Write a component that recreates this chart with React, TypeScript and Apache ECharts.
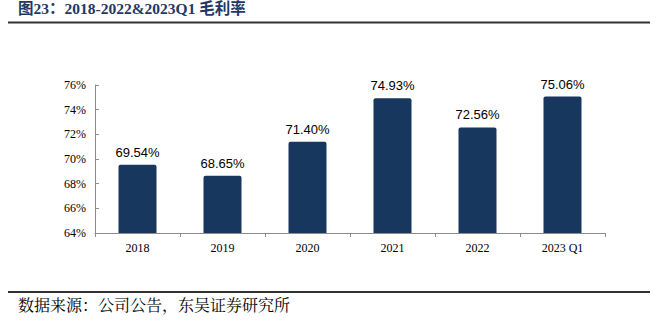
import React, { useEffect, useRef } from "react";
import * as echarts from "echarts";

const categories = ["2018", "2019", "2020", "2021", "2022", "2023 Q1"];
const grossMargin = [69.54, 68.65, 71.4, 74.93, 72.56, 75.06];
const yMin = 64;
const yMax = 76;
const yInterval = 2;
const titleText = "图23：2018-2022&2023Q1 毛利率";
const sourceText = "数据来源：公司公告，东吴证券研究所";

export default function App() {
  const ref = useRef<HTMLDivElement>(null);
  useEffect(() => {
    if (!ref.current) return;
    const chart = echarts.init(ref.current, undefined, { renderer: "svg" });
    chart.setOption({
      animation: false,
      backgroundColor: "#ffffff",
      grid: { left: 95, right: 54, top: 85, bottom: 90 },
      xAxis: {
        type: "category",
        data: categories,
        axisLine: { lineStyle: { color: "#8c8c8c", width: 1 } },
        axisTick: { show: true, alignWithLabel: false, length: 4, inside: false, lineStyle: { color: "#8c8c8c" } },
        axisLabel: { color: "#000", fontFamily: "Liberation Serif", fontSize: 12, margin: 9 },
      },
      yAxis: {
        type: "value",
        min: yMin,
        max: yMax,
        interval: yInterval,
        splitLine: { show: false },
        axisLine: { show: true, lineStyle: { color: "#8c8c8c", width: 1 } },
        axisTick: { show: true, inside: true, length: 4, lineStyle: { color: "#8c8c8c" } },
        axisLabel: { color: "#000", fontFamily: "Liberation Serif", fontSize: 12, margin: 9, formatter: "{value}%" },
      },
      series: [
        {
          type: "bar",
          data: grossMargin,
          barWidth: 38,
          itemStyle: { color: "#17375e", borderRadius: [2, 2, 0, 0] },
          label: {
            show: true,
            position: "top",
            distance: 6,
            color: "#000",
            fontFamily: "Liberation Sans",
            fontSize: 13,
            formatter: (p: any) => p.value.toFixed(2) + "%",
          },
        },
      ],
      graphic: [
        {
          type: "text",
          left: 18,
          top: 1,
          style: {
            text: titleText,
            fontFamily: "Liberation Serif, 'Noto Sans CJK SC'",
            fontWeight: "bold",
            fontSize: 15.5,
            fill: "#1f3864",
          },
        },
        {
          type: "line",
          shape: { x1: 8, y1: 22.5, x2: 650, y2: 22.5 },
          style: { stroke: "#333", lineWidth: 2 },
        },
        {
          type: "line",
          shape: { x1: 8, y1: 292, x2: 650, y2: 292 },
          style: { stroke: "#333", lineWidth: 2 },
        },
        {
          type: "text",
          left: 18,
          top: 296,
          style: {
            text: sourceText,
            fontFamily: "'Noto Serif CJK SC', 'Noto Sans CJK SC'",
            fontSize: 16,
            fill: "#000",
          },
        },
      ],
    });
    return () => chart.dispose();
  }, []);
  return (
    <div style={{ position: "absolute", left: 0, top: 0 }}>
      <div ref={ref} style={{ width: 659, height: 323 }} />
    </div>
  );
}
